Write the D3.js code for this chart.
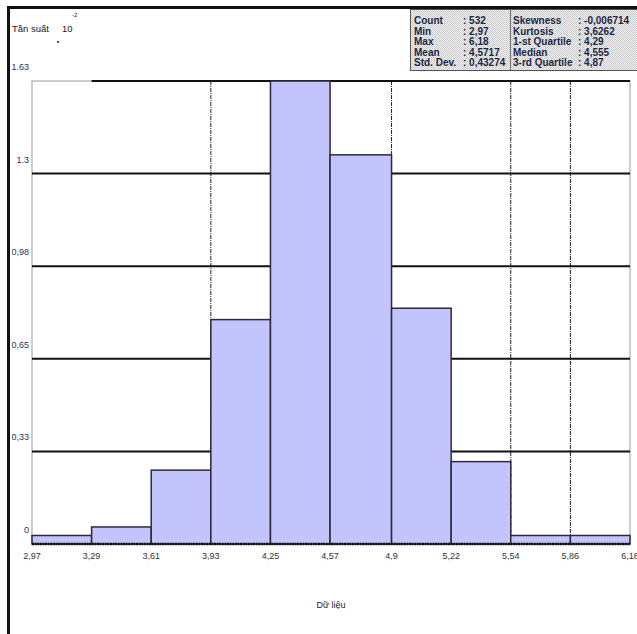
<!DOCTYPE html>
<html>
<head>
<meta charset="utf-8">
<script src="https://cdn.jsdelivr.net/npm/d3@7"></script>
<style>
  html, body { margin: 0; padding: 0; background: #fff; }
  svg { display: block; }
</style>
</head>
<body>
<svg id="chart" width="637" height="634"></svg>
<script>
// bin edges and counts (frequency shown in units of 10^-2)
const binEdges = [2.97, 3.29, 3.61, 3.93, 4.25, 4.57, 4.9, 5.22, 5.54, 5.86, 6.18];
const binLabels = ['2,97', '3,29', '3,61', '3,93', '4,25', '4,57', '4,9', '5,22', '5,54', '5,86', '6,18'];
const counts = [3, 6, 26, 79, 163, 137, 83, 29, 3, 3];
const yTicks = [0, 0.326, 0.652, 0.978, 1.304, 1.63];
const yLabels = ['0', '0,33', '0,65', '0,98', '1.3', '1.63'];
const vGrid = [3.93, 4.9, 5.54, 5.86];
const statsLeft = [['Count', ': 532'], ['Min', ': 2,97'], ['Max', ': 6,18'], ['Mean', ': 4,5717'], ['Std. Dev.', ': 0,43274']];
const statsRight = [['Skewness', ': -0,006714'], ['Kurtosis', ': 3,6262'], ['1-st Quartile', ': 4,29'], ['Median', ': 4,555'], ['3-rd Quartile', ': 4,87']];

const svg = d3.select('#chart');
const font = '"Liberation Sans", Arial, sans-serif';

const x = d3.scaleLinear().domain([2.97, 6.18]).range([32, 630]);
const y = d3.scaleLinear().domain([0, 1.63]).range([544, 81]);

const bars = counts.map((c, i) => ({ x0: binEdges[i], x1: binEdges[i + 1], v: c / 100 }));

// plot frame (thin gray)
svg.append('rect').attr('x', 32).attr('y', 81).attr('width', 598).attr('height', 463)
  .attr('fill', 'none').attr('stroke', '#9a9a9a').attr('stroke-width', 1);

// vertical grid
svg.append('g').selectAll('line').data(vGrid).enter().append('line')
  .attr('x1', d => x(d)).attr('x2', d => x(d)).attr('y1', y(1.63)).attr('y2', y(0))
  .attr('stroke', '#222').attr('stroke-width', 1).attr('stroke-dasharray', '4,1,1,1');

// horizontal grid
svg.append('g').selectAll('line').data(yTicks.slice(1)).enter().append('line')
  .attr('x1', d => d === 1.63 ? x(3.29) : x(2.97)).attr('x2', x(6.18))
  .attr('y1', d => y(d)).attr('y2', d => y(d))
  .attr('stroke', '#111').attr('stroke-width', 2);

// bars
svg.append('g').selectAll('rect').data(bars).enter().append('rect')
  .attr('x', d => x(d.x0)).attr('width', d => x(d.x1) - x(d.x0))
  .attr('y', d => y(d.v)).attr('height', d => y(0) - y(d.v))
  .attr('fill', '#c4c4fc').attr('stroke', '#2a2a3a').attr('stroke-width', 1.5);

// baseline
svg.append('line').attr('x1', x(2.97)).attr('x2', x(6.18)).attr('y1', y(0)).attr('y2', y(0))
  .attr('stroke', '#111').attr('stroke-width', 2.5).attr('stroke-dasharray', '2,0.6');

// x tick labels
svg.append('g').selectAll('text').data(binEdges).enter().append('text')
  .attr('x', d => x(d)).attr('y', 559).attr('text-anchor', 'middle')
  .attr('font-family', font).attr('font-size', 9).attr('fill', '#333')
  .text((d, i) => binLabels[i]);

// y tick labels
svg.append('g').selectAll('text').data(yTicks).enter().append('text')
  .attr('x', 29).attr('y', d => y(d) - 11).attr('text-anchor', 'end')
  .attr('font-family', font).attr('font-size', 9).attr('fill', '#2b3550')
  .text((d, i) => yLabels[i]);

// titles
svg.append('text').attr('x', 12).attr('y', 32).attr('font-family', font).attr('font-size', 9.5).attr('fill', '#222').text('Tần suất');
svg.append('text').attr('x', 62).attr('y', 32).attr('font-family', font).attr('font-size', 9.5).attr('fill', '#222').text('10');
svg.append('text').attr('x', 72).attr('y', 17).attr('font-family', font).attr('font-size', 6).attr('fill', '#222').text('-2');
svg.append('circle').attr('cx', 58).attr('cy', 42).attr('r', 1).attr('fill', '#222');
svg.append('text').attr('x', 331).attr('y', 608).attr('text-anchor', 'middle')
  .attr('font-family', font).attr('font-size', 9).attr('fill', '#222').text('Dữ liệu');

// stats box
const defs = svg.append('defs');
const pat = defs.append('pattern').attr('id', 'hatch').attr('width', 2).attr('height', 2).attr('patternUnits', 'userSpaceOnUse');
pat.append('rect').attr('width', 2).attr('height', 2).attr('fill', '#ececec');
pat.append('rect').attr('width', 1).attr('height', 1).attr('fill', '#cfcfcf');
pat.append('rect').attr('x', 1).attr('y', 1).attr('width', 1).attr('height', 1).attr('fill', '#cfcfcf');

svg.append('rect').attr('x', 410.5).attr('y', 9.5).attr('width', 240).attr('height', 61)
  .attr('fill', 'url(#hatch)').attr('stroke', '#555').attr('stroke-width', 1);
svg.append('line').attr('x1', 510.5).attr('x2', 510.5).attr('y1', 10).attr('y2', 70)
  .attr('stroke', '#777').attr('stroke-width', 1.2);

const rowY = i => 24 + i * 10.5;
const statText = (rows, xLabel, xVal) => {
  const g = svg.append('g').attr('font-family', font).attr('font-size', 10).attr('font-weight', 'bold').attr('fill', '#1c2848');
  g.selectAll('text.l').data(rows).enter().append('text').attr('class', 'l')
    .attr('x', xLabel).attr('y', (d, i) => rowY(i)).text(d => d[0]);
  g.selectAll('text.v').data(rows).enter().append('text').attr('class', 'v')
    .attr('x', xVal).attr('y', (d, i) => rowY(i)).text(d => d[1]);
};
statText(statsLeft, 414, 463);
statText(statsRight, 513, 578);

// outer frame
svg.append('line').attr('x1', 8.5).attr('x2', 8.5).attr('y1', 6).attr('y2', 634).attr('stroke', '#111').attr('stroke-width', 3);
svg.append('line').attr('x1', 7).attr('x2', 637).attr('y1', 7.5).attr('y2', 7.5).attr('stroke', '#111').attr('stroke-width', 3);
</script>
</body>
</html>
